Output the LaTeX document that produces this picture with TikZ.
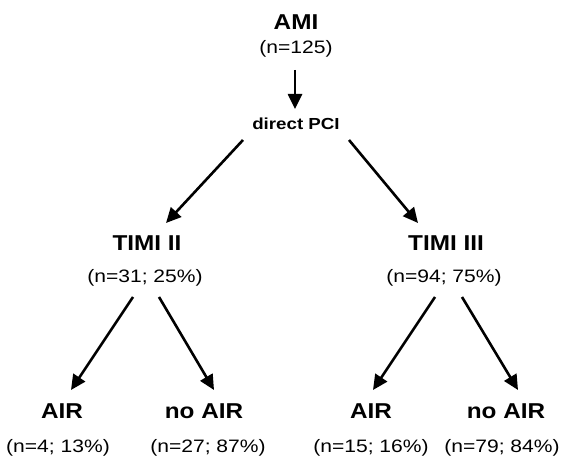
\documentclass[tikz,border=0pt]{standalone}
\usepackage{fontspec}
\setmainfont[FakeStretch=1.17]{Liberation Sans}
\newfontfamily\titlefont[FakeStretch=1.13]{Liberation Sans}
\usetikzlibrary{arrows.meta}
\tikzset{
  title/.style={anchor=base, inner sep=0pt, font=\titlefont\fontsize{21.5}{26}\selectfont\bfseries},
  count/.style={anchor=base, inner sep=0pt, font=\fontsize{18}{21}\selectfont},
  small/.style={anchor=base, inner sep=0pt, font=\fontsize{16}{18}\selectfont\bfseries},
  arr/.style={line width=2.6pt, -{Triangle[length=15pt,width=14pt]}}
}
\begin{document}
\begin{tikzpicture}[x=1pt, y=-1pt]
\useasboundingbox (0,0) rectangle (571,457);
% nodes
\node[title] (ami) at (296,30) {AMI};
\node[count] (n125) at (296,54) {(n=125)};
\node[small] (pci) at (296,130) {direct PCI};
\node[title] (t2) at (147,251) {TIMI II};
\node[count] (n31) at (145,283) {(n=31; 25\%)};
\node[title] (t3) at (446,251) {TIMI III};
\node[count] (n94) at (444,283) {(n=94; 75\%)};
\node[title] (air1) at (62,418) {AIR};
\node[count] (n4) at (58,452) {(n=4; 13\%)};
\node[title] (noair1) at (204,418) {no AIR};
\node[count] (n27) at (208,452) {(n=27; 87\%)};
\node[title] (air2) at (371,418) {AIR};
\node[count] (n15) at (371,452) {(n=15; 16\%)};
\node[title] (noair2) at (506,418) {no AIR};
\node[count] (n79) at (502,452) {(n=79; 84\%)};
% connector end points
\coordinate (a0) at (295,70);   \coordinate (b0) at (295,109);
\coordinate (a1) at (243,140);  \coordinate (b1) at (166,223);
\coordinate (a2) at (349,140);  \coordinate (b2) at (418,223);
\coordinate (a3) at (133,297);  \coordinate (b3) at (71,390);
\coordinate (a4) at (159,297);  \coordinate (b4) at (214,390);
\coordinate (a5) at (435,297);  \coordinate (b5) at (373,390);
\coordinate (a6) at (462,297);  \coordinate (b6) at (518,390);
% connectors
\draw[arr] (a0) -- (b0);
\draw[arr] (a1) -- (b1);
\draw[arr] (a2) -- (b2);
\draw[arr] (a3) -- (b3);
\draw[arr] (a4) -- (b4);
\draw[arr] (a5) -- (b5);
\draw[arr] (a6) -- (b6);
\end{tikzpicture}
\end{document}
